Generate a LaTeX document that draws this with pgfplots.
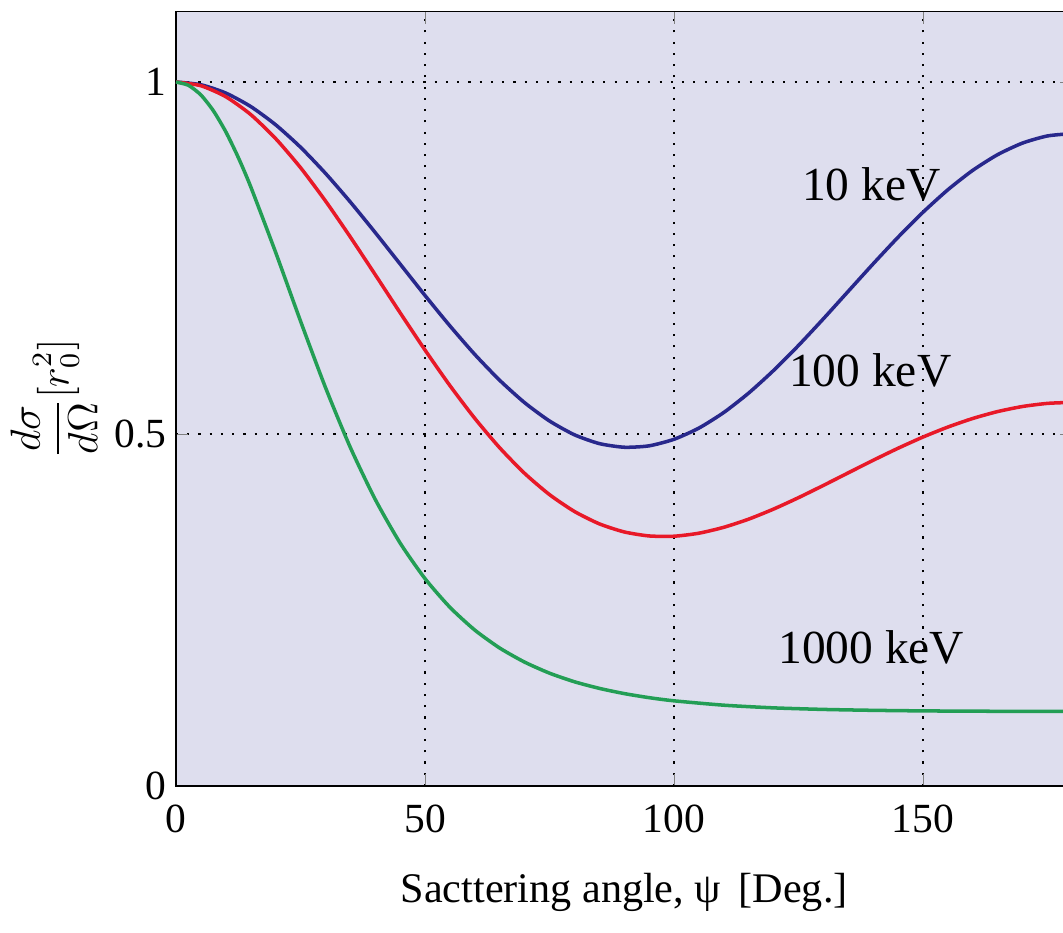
\documentclass[border=0pt]{standalone}
\usepackage{fontspec}
\setmainfont{Liberation Serif}
\usepackage{pgfplots}
\pgfplotsset{compat=1.18}
\definecolor{bgc}{RGB}{222,222,238}
\definecolor{cblue}{RGB}{40,40,140}
\definecolor{cred}{RGB}{232,25,40}
\definecolor{cgreen}{RGB}{35,158,85}
\begin{document}
\begin{tikzpicture}
\begin{axis}[
  scale only axis,
  width=8.964cm, height=7.744cm,
  xmin=0, xmax=180, ymin=0, ymax=1.1,
  xtick={0,50,100,150}, ytick={0,0.5,1},
  yticklabels={0,0.5,1},
  tick align=inside,
  xtick pos=both, ytick pos=both,
  major tick length=0.12cm,
  grid=major,
  grid style={black, line width=0.5pt, dash pattern=on 0.6pt off 2.6pt},
  axis line style={black, line width=0.5pt},
  axis background/.style={fill=bgc},
  /pgf/number format/assume math mode=true,
  tick label style={font=\fontsize{11.8}{14}\selectfont},
  xticklabel style={yshift=-0.06cm},
  yticklabel style={xshift=0.03cm},
  xlabel={Sacttering angle, ψ\, [Deg.]},
  xlabel style={at={(axis description cs:0.5,-0.151)}, anchor=base, font=\fontsize{12}{14}\selectfont},
  ylabel={$\displaystyle\frac{d\sigma}{d\Omega}[r_0^2]$},
  ylabel style={at={(axis description cs:-0.136,0.5)}, anchor=center, font=\fontsize{12}{14}\selectfont},
  clip=true,
]
\addplot[cblue, line width=1pt, smooth, tension=0.4] coordinates {
(0,1) (5,0.9961) (10,0.9843) (15,0.9652) (20,0.9393) (25,0.9074) (30,0.8704)
(35,0.8296) (40,0.7862) (45,0.7415) (50,0.6968) (55,0.6536) (60,0.6130)
(65,0.5763) (70,0.5445) (75,0.5185) (80,0.4989) (85,0.4864) (90,0.4812)
(95,0.4832) (100,0.4925) (105,0.5084) (110,0.5306) (115,0.5582) (120,0.5903)
(125,0.6258) (130,0.6637) (135,0.7028) (140,0.7418) (145,0.7796) (150,0.8150)
(155,0.8470) (160,0.8746) (165,0.8969) (170,0.9133) (175,0.9234) (180,0.9268)
};
\addplot[cred, line width=1pt, smooth, tension=0.4] coordinates {
(0,1) (5,0.9947) (10,0.9791) (15,0.9538) (20,0.9197) (25,0.8784) (30,0.8312)
(35,0.7799) (40,0.7264) (45,0.6723) (50,0.6193) (55,0.5688) (60,0.5222)
(65,0.4804) (70,0.4441) (75,0.4139) (80,0.3900) (85,0.3724) (90,0.3609)
(95,0.3552) (100,0.3548) (105,0.3591) (110,0.3675) (115,0.3791) (120,0.3934)
(125,0.4096) (130,0.4270) (135,0.4449) (140,0.4627) (145,0.4798) (150,0.4957)
(155,0.5099) (160,0.5221) (165,0.5319) (170,0.5391) (175,0.5435) (180,0.5450)
};
\addplot[cgreen, line width=1pt, smooth, tension=0.4] coordinates {
(0,1) (2.5,0.9953) (5,0.9816) (7.5,0.9592) (10,0.9293) (12.5,0.8929) (15,0.8513)
(20,0.7582) (25,0.6605) (30,0.5663)
(35,0.4810) (40,0.4072) (45,0.3452) (50,0.2946) (55,0.2539) (60,0.2215)
(65,0.1960) (70,0.1760) (75,0.1603) (80,0.1481) (85,0.1387) (90,0.1313)
(95,0.1255) (100,0.1210)
(110,0.1148) (120,0.1110) (130,0.1088) (140,0.1075) (150,0.1067) (160,0.1063)
(170,0.1060) (180,0.1060)
};
\node[font=\fontsize{13.5}{16}\selectfont] at (axis cs:139.6,0.854) {10 keV};
\node[font=\fontsize{13.5}{16}\selectfont] at (axis cs:139.4,0.591) {100 keV};
\node[font=\fontsize{13.5}{16}\selectfont] at (axis cs:139.6,0.197) {1000 keV};
\end{axis}
\pgfresetboundingbox
\useasboundingbox (-1.76cm,-1.46cm) rectangle (8.87cm,7.86cm);
\end{tikzpicture}
\end{document}
